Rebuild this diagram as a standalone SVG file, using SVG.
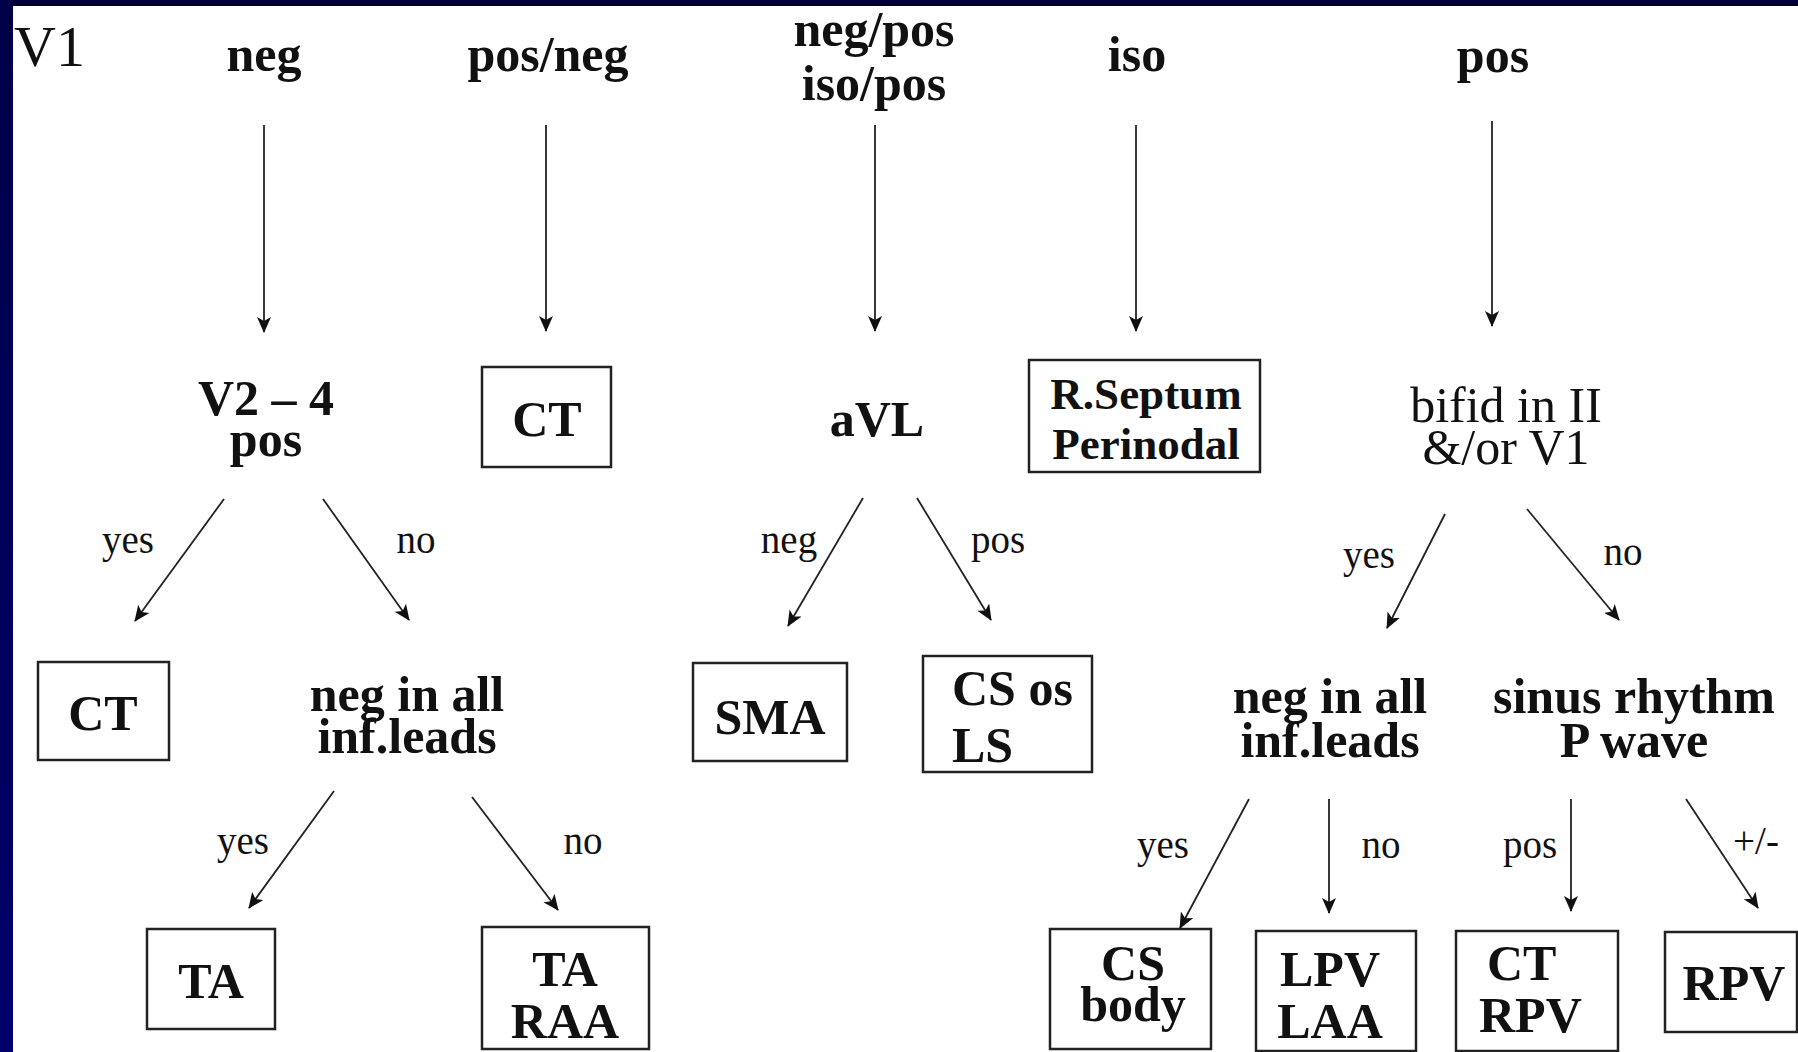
<svg xmlns="http://www.w3.org/2000/svg" width="1798" height="1052" viewBox="0 0 1798 1052">
<defs>
<linearGradient id="lb" x1="0" y1="0" x2="0" y2="1">
<stop offset="0" stop-color="#000048"/>
<stop offset="1" stop-color="#00006a"/>
</linearGradient>
<marker id="ah" markerUnits="userSpaceOnUse" markerWidth="16" markerHeight="14" refX="15" refY="7" orient="auto">
<path d="M0,0 L16,7 L0,14 L4,7 Z" fill="#111"/>
</marker>
<style>
.b{font-family:"Liberation Serif","Times New Roman",serif;font-weight:bold;font-size:50px;fill:#111;text-anchor:middle}
.r{font-family:"Liberation Serif","Times New Roman",serif;font-size:50px;fill:#111;text-anchor:middle}
.s{font-family:"Liberation Serif","Times New Roman",serif;font-size:39px;fill:#111;text-anchor:middle}
.box{fill:none;stroke:#222;stroke-width:2.5}
.ln{stroke:#222;stroke-width:1.8;fill:none;marker-end:url(#ah)}
</style>
</defs>
<rect x="0" y="0" width="1798" height="1052" fill="#fff"/>
<rect x="0" y="0" width="1798" height="6" fill="#000033"/>
<rect x="0" y="0" width="13" height="1052" fill="url(#lb)"/>

<g id="connectors">
<line class="ln" x1="264" y1="125" x2="264" y2="332"/>
<line class="ln" x1="546" y1="125" x2="546" y2="331"/>
<line class="ln" x1="875" y1="125" x2="875" y2="331"/>
<line class="ln" x1="1136" y1="125" x2="1136" y2="331"/>
<line class="ln" x1="1492" y1="121" x2="1492" y2="326"/>
<line class="ln" x1="224" y1="499" x2="135" y2="621"/>
<line class="ln" x1="323" y1="499" x2="409" y2="620"/>
<line class="ln" x1="863" y1="498" x2="788" y2="626"/>
<line class="ln" x1="917" y1="498" x2="991" y2="620"/>
<line class="ln" x1="1445" y1="514" x2="1387" y2="628"/>
<line class="ln" x1="1527" y1="509" x2="1619" y2="620"/>
<line class="ln" x1="334" y1="791" x2="249" y2="908"/>
<line class="ln" x1="472" y1="797" x2="558" y2="910"/>
<line class="ln" x1="1249" y1="799" x2="1180" y2="928"/>
<line class="ln" x1="1329" y1="799" x2="1329" y2="913"/>
<line class="ln" x1="1571" y1="799" x2="1571" y2="911"/>
<line class="ln" x1="1686" y1="799" x2="1758" y2="908"/>
<text class="s" x="128" y="553">yes</text>
<text class="s" x="416" y="553">no</text>
<text class="s" x="789" y="553">neg</text>
<text class="s" x="998" y="553">pos</text>
<text class="s" x="1369" y="568">yes</text>
<text class="s" x="1623" y="565">no</text>
<text class="s" x="243" y="854">yes</text>
<text class="s" x="583" y="854">no</text>
<text class="s" x="1163" y="858">yes</text>
<text class="s" x="1381" y="858">no</text>
<text class="s" x="1530" y="858">pos</text>
<text class="s" x="1756" y="854">+/-</text>
</g>

<g id="v1"><text class="r" x="14" y="66" style="text-anchor:start;font-size:58px">V1</text></g>
<g id="top-neg"><text class="b" x="264" y="71">neg</text></g>
<g id="top-posneg"><text class="b" x="548" y="71">pos/neg</text></g>
<g id="top-negpos"><text class="b"><tspan x="874" y="46">neg/pos</tspan><tspan x="874" y="100">iso/pos</tspan></text></g>
<g id="top-iso"><text class="b" x="1137" y="71">iso</text></g>
<g id="top-pos"><text class="b" x="1493" y="72">pos</text></g>

<g id="v24"><text class="b"><tspan x="266" y="415">V2 – 4</tspan><tspan x="266" y="456">pos</tspan></text></g>
<g id="ct1"><rect class="box" x="482" y="367" width="129" height="100"/><text class="b" x="547" y="436">CT</text></g>
<g id="avl"><text class="b" x="877" y="436">aVL</text></g>
<g id="rseptum"><rect class="box" x="1029" y="360" width="231" height="112"/><text class="b" style="font-size:45px"><tspan x="1146" y="409">R.Septum</tspan><tspan x="1146" y="459">Perinodal</tspan></text></g>
<g id="bifid"><text class="r"><tspan x="1506" y="422">bifid in II</tspan><tspan x="1506" y="464">&amp;/or V1</tspan></text></g>

<g id="ct2"><rect class="box" x="38" y="662" width="131" height="98"/><text class="b" x="103" y="730">CT</text></g>
<g id="neginf1"><text class="b"><tspan x="407" y="711">neg in all</tspan><tspan x="407" y="753">inf.leads</tspan></text></g>
<g id="sma"><rect class="box" x="693" y="663" width="154" height="98"/><text class="b" x="770" y="734">SMA</text></g>
<g id="csos"><rect class="box" x="923" y="656" width="169" height="116"/><text class="b" style="text-anchor:start"><tspan x="952" y="705">CS os</tspan><tspan x="952" y="762">LS</tspan></text></g>
<g id="neginf2"><text class="b"><tspan x="1330" y="713">neg in all</tspan><tspan x="1330" y="757">inf.leads</tspan></text></g>
<g id="sinus"><text class="b"><tspan x="1634" y="713">sinus rhythm</tspan><tspan x="1634" y="757">P wave</tspan></text></g>

<g id="ta"><rect class="box" x="147" y="929" width="128" height="100"/><text class="b" x="211" y="998">TA</text></g>
<g id="taraa"><rect class="box" x="482" y="927" width="167" height="122"/><text class="b"><tspan x="565" y="986">TA</tspan><tspan x="565" y="1038">RAA</tspan></text></g>
<g id="csbody"><rect class="box" x="1050" y="929" width="161" height="120"/><text class="b"><tspan x="1133" y="980">CS</tspan><tspan x="1133" y="1021">body</tspan></text></g>
<g id="lpvlaa"><rect class="box" x="1256" y="931" width="160" height="120"/><text class="b"><tspan x="1330" y="986">LPV</tspan><tspan x="1330" y="1038">LAA</tspan></text></g>
<g id="ctrpv"><rect class="box" x="1456" y="931" width="162" height="120"/><text class="b" style="text-anchor:start"><tspan x="1487" y="980">CT</tspan><tspan x="1479" y="1032">RPV</tspan></text></g>
<g id="rpv"><rect class="box" x="1665" y="932" width="132" height="100"/><text class="b" x="1734" y="1000">RPV</text></g>
</svg>
